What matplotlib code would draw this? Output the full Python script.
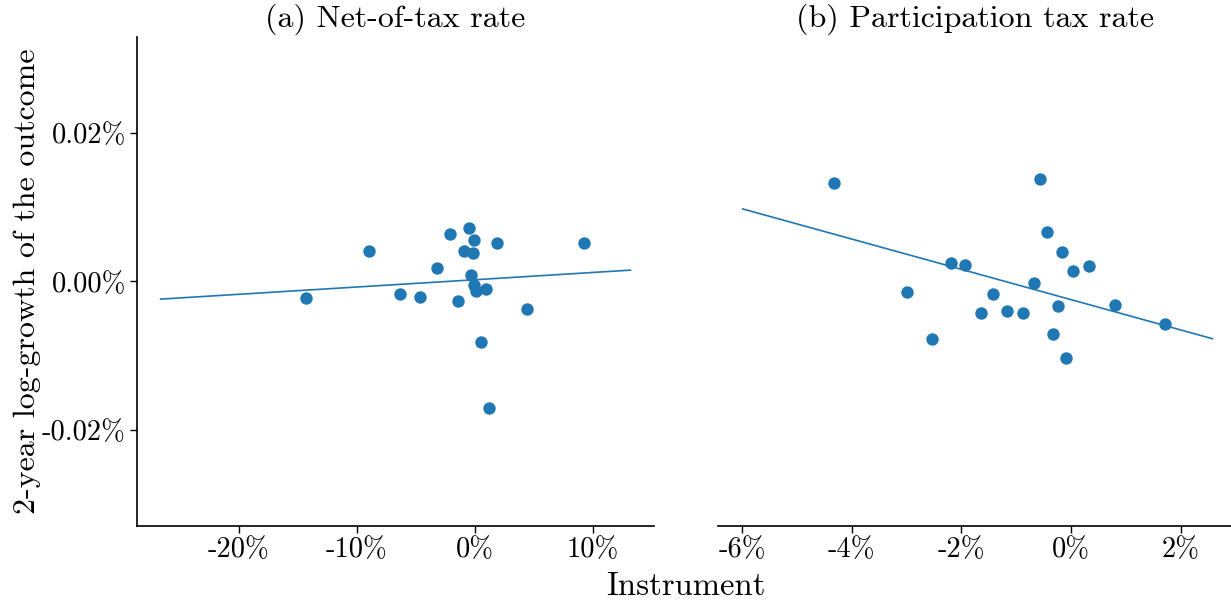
import numpy as np
import matplotlib
matplotlib.use("Agg")
import matplotlib.pyplot as plt
from matplotlib.ticker import FuncFormatter

plt.rcParams["font.family"] = "serif"
plt.rcParams["font.serif"] = ["cmr10"]
plt.rcParams["mathtext.fontset"] = "cm"
plt.rcParams["axes.formatter.use_mathtext"] = True

# panel (a): net-of-tax rate instrument (%), 2-year log growth (%)
net_x = [-14.28, -8.92, -6.31, -4.65, -3.21, -2.12, -1.41, -0.86, -0.49, -0.14,
         -0.09, -0.32, -0.06, 0.09, 0.95, 0.52, 1.20, 1.89, 4.42, 9.29]
net_y = [-0.0022, 0.00409, -0.00166, -0.00216, 0.00184, 0.00647, -0.00265, 0.00409,
         0.00719, 0.00382, 0.00566, 0.00085, -0.00049, -0.0013, -0.00108, -0.00818,
         -0.01703, 0.00521, -0.00373, 0.00526]
net_fit_x = [-26.6, 13.2]
net_fit_y = [-0.00238, 0.00153]

# panel (b): participation tax rate instrument (%)
part_x = [-4.32, -0.56, -0.44, -0.17, 0.33, 0.03, -2.19, -1.94, -0.67, -2.99,
          -1.42, -1.65, -1.17, -0.88, -0.23, 0.81, 1.71, -2.54, -0.33, -0.09]
part_y = [0.01329, 0.01384, 0.00673, 0.00404, 0.00211, 0.00135, 0.00256, 0.00216,
          -0.00027, -0.00143, -0.0017, -0.00426, -0.00404, -0.00431, -0.00327,
          -0.00323, -0.0057, -0.00781, -0.00708, -0.01032]
part_fit_x = [-5.99, 2.58]
part_fit_y = [0.00979, -0.00772]

titles = ["(a) Net-of-tax rate", "(b) Participation tax rate"]
x_ticks = [[-20, -10, 0, 10], [-6, -4, -2, 0, 2]]
y_ticks = [-0.02, 0.0, 0.02]

color = "#1f77b4"

fig = plt.figure(figsize=(12.31, 6.03), dpi=100)
ax1 = fig.add_axes([0.1113, 0.1277, 0.4200, 0.8110])
ax2 = fig.add_axes([0.5833, 0.1277, 0.4167, 0.8110], sharey=ax1)

panels = [(ax1, net_x, net_y, net_fit_x, net_fit_y, (-28.6, 15.2)),
          (ax2, part_x, part_y, part_fit_x, part_fit_y, (-6.44, 2.92))]

for i, (ax, xs, ys, fx, fy, xlim) in enumerate(panels):
    ax.scatter(xs, ys, s=80, color=color, zorder=3, linewidths=0)
    ax.plot(fx, fy, color=color, lw=1.2)
    ax.set_xlim(*xlim)
    ax.set_xticks(x_ticks[i])
    ax.xaxis.set_major_formatter(FuncFormatter(lambda v, p: f"{v:.0f}%".replace("\u2212", "-")))
    ax.set_title(titles[i], fontsize=23, pad=7)
    ax.spines["top"].set_visible(False)
    ax.spines["right"].set_visible(False)
    for s in ax.spines.values():
        s.set_linewidth(1.2)
    ax.tick_params(labelsize=20.5, width=1.0, length=5, pad=3)

ax1.set_ylim(-0.033, 0.033)
ax1.set_yticks(y_ticks)
ax1.yaxis.set_major_formatter(FuncFormatter(lambda v, p: f"{v:.2f}%"))
ax1.set_ylabel("2-year log-growth of the outcome", fontsize=23, labelpad=1)

ax2.spines["left"].set_visible(False)
ax2.tick_params(axis="y", left=False, labelleft=False)

fig.text(0.557, 0.028, "Instrument", ha="center", va="center", fontsize=23.5)

fig.savefig("out.png", dpi=100)
